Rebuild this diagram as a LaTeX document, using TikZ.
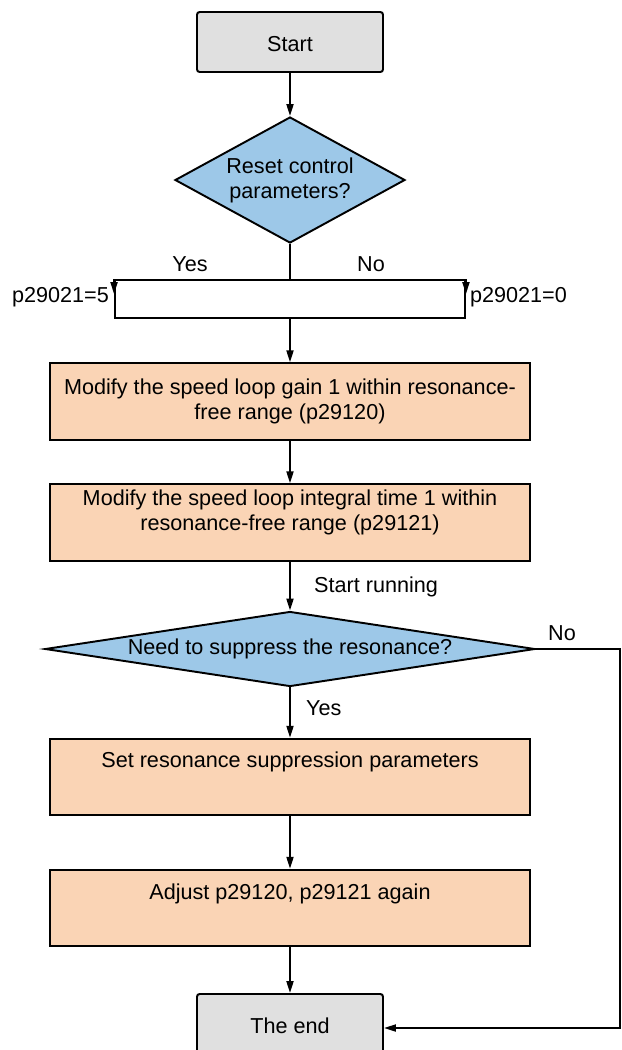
\documentclass[tikz,border=0pt]{standalone}
\usepackage{fontspec}
\setmainfont{Liberation Sans}
\usetikzlibrary{shapes.geometric,arrows.meta}

\definecolor{endgray}{HTML}{E0E0E0}
\definecolor{askblue}{HTML}{9DC8E8}
\definecolor{stepbeige}{HTML}{FAD4B5}

\tikzset{
    every node/.style={font=\fontsize{12.3}{14.2}\selectfont},
    flow/.style={line width=1.1pt, -{Triangle[length=2.4mm,width=1.4mm]}},
    termbox/.style={draw, line width=1.1pt, fill=endgray, rounded corners=1.5pt,
        minimum width=3.72cm, minimum height=1.2cm, inner sep=0pt},
    askbox/.style={draw, line width=1.1pt, fill=askblue, diamond, inner sep=0pt, align=center},
    stepbox/.style={draw, line width=1.1pt, fill=stepbeige,
        minimum width=9.6cm, minimum height=1.53cm, inner sep=0pt},
    steptext/.style={align=center, inner sep=0pt}
}

\begin{document}
\begin{tikzpicture}
    \useasboundingbox (0,0) rectangle (12.44,-21);
    \clip (0,0) rectangle (12.44,-21);

    % Start
    \node[termbox] (start) at (5.8,-0.84) {};
    \node (startt) at (5.8,-0.88) {Start};

    % Reset question
    \node[askbox, aspect=1.85, minimum width=4.6cm, minimum height=2.52cm]
        (reset) at (5.8,-3.6) {Reset control\\parameters?};

    % Yes / No split
    \node[draw, line width=1.1pt, minimum width=7cm, minimum height=0.76cm, inner sep=0pt]
        (split) at (5.8,-5.98) {};
    \node at (3.8,-5.28) (yes1) {Yes};
    \node at (7.42,-5.28) (no1) {No};
    \node[anchor=east, inner sep=1pt] (p5) at (2.22,-5.94) {p29021=5};
    \node[anchor=west, inner sep=1pt] (p0) at (9.36,-5.94) {p29021=0};

    % Gain and integral time
    \node[stepbox] (gain) at (5.8,-8.03) {};
    \node[steptext] (gaint) at (5.8,-8.02)
        {Modify the speed loop gain 1 within resonance-\\free range (p29120)};
    \node[stepbox] (integ) at (5.8,-10.45) {};
    \node[steptext] (integt) at (5.8,-10.25)
        {Modify the speed loop integral time 1 within\\resonance-free range (p29121)};

    % Resonance question
    \node[anchor=west] (run) at (6.16,-11.74) {Start running};
    \node[askbox, aspect=6.5, minimum width=9.8cm, minimum height=1.5cm]
        (suppress) at (5.8,-12.98) {Need to suppress the resonance?};
    \node[anchor=west] (yes2) at (6.0,-14.16) {Yes};
    \node (no2) at (11.24,-12.66) {No};

    % Suppression steps
    \node[stepbox] (sup) at (5.8,-15.54) {};
    \node[steptext] (supt) at (5.8,-15.24) {Set resonance suppression parameters};
    \node[stepbox] (adj) at (5.8,-18.16) {};
    \node[steptext] (adjt) at (5.8,-17.88) {Adjust p29120, p29121 again};

    % End
    \node[termbox] (finish) at (5.8,-20.48) {};
    \node (finisht) at (5.8,-20.52) {The end};

    % Arrows
    \draw[flow] (start) -- (reset);
    \draw[line width=1.1pt] (reset.south) -- (split.north);
    \draw[flow] (split.north west) -- ++(0,-0.3);
    \draw[flow] (split.north east) -- ++(0,-0.3);
    \draw[flow] (split.south) -- (gain.north);
    \draw[flow] (gain) -- (integ);
    \draw[flow] (integ.south) -- (suppress.north);
    \draw[flow] (suppress.south) -- (sup.north);
    \draw[flow] (sup) -- (adj);
    \draw[flow] (adj) -- (finish);

    % No branch
    \coordinate (noright) at (12.4,-12.98);
    \coordinate (nodown) at (12.4,-20.56);
    \draw[flow] (suppress.east) -- (noright) -- (nodown) -- (nodown -| finish.east);
\end{tikzpicture}
\end{document}
